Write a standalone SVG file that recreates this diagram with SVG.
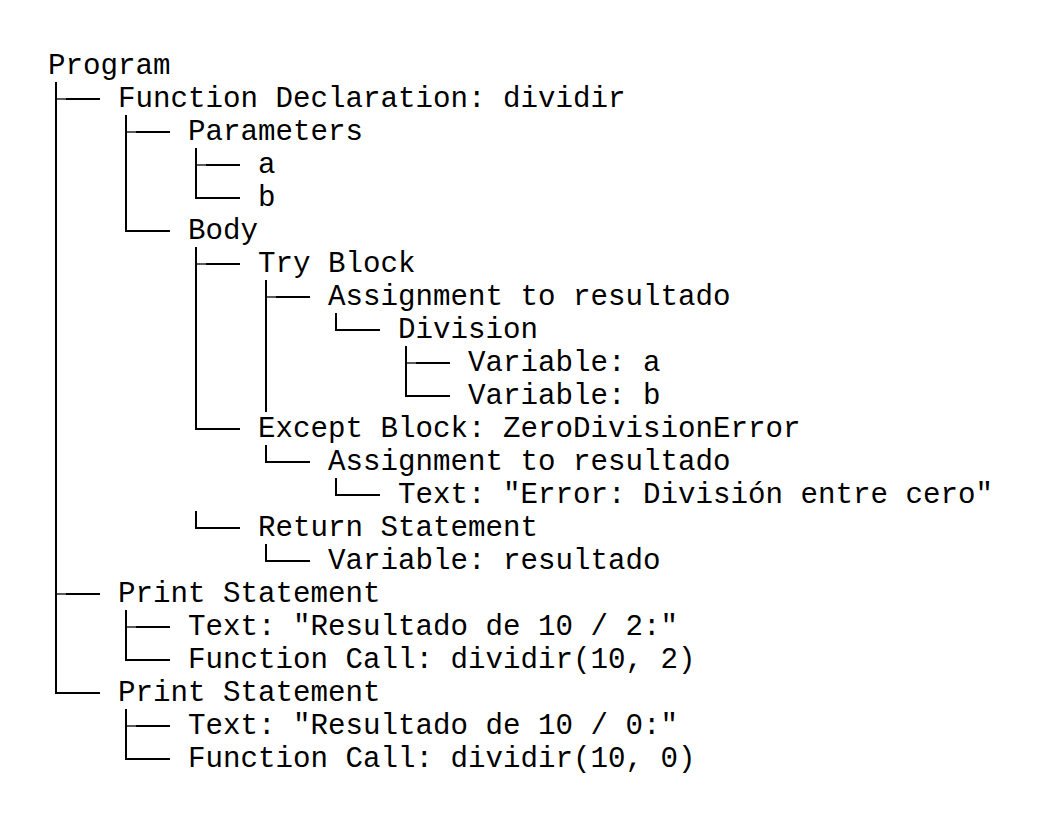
<svg xmlns="http://www.w3.org/2000/svg" width="1055" height="832" viewBox="0 0 1055 832">
<style>
text{font-family:"Liberation Mono","Courier New",monospace;font-size:29.17px;fill:#000;white-space:pre}
.c path{fill:none;stroke:#000;stroke-width:2;stroke-linejoin:miter;stroke-linecap:butt}
.c path.stub{stroke-width:1.3}
</style>
<rect width="1055" height="832" fill="#fff"/>
<g id="connectors" class="c">
<path d="M56 82V693H100"/>
<path class="stub" d="M56 99H66"/><path d="M66 99H100"/>
<path class="stub" d="M56 594H66"/><path d="M66 594H100"/>
<path d="M126 115V231H170"/>
<path class="stub" d="M126 132H136"/><path d="M136 132H170"/>
<path d="M196 148V198H240"/>
<path class="stub" d="M196 165H206"/><path d="M206 165H240"/>
<path d="M196 247V429H240"/>
<path class="stub" d="M196 264H206"/><path d="M206 264H240"/>
<path d="M266 280V412"/>
<path class="stub" d="M266 297H276"/><path d="M276 297H310"/>
<path d="M336 313V330H380"/>
<path d="M406 346V396H450"/>
<path class="stub" d="M406 363H416"/><path d="M416 363H450"/>
<path d="M266 445V462H310"/>
<path d="M336 478V495H380"/>
<path d="M196 511V528H240"/>
<path d="M266 544V561H310"/>
<path d="M126 610V660H170"/>
<path class="stub" d="M126 627H136"/><path d="M136 627H170"/>
<path d="M126 709V759H170"/>
<path class="stub" d="M126 726H136"/><path d="M136 726H170"/>
</g>
<g id="n-program"><text x="48" y="74">Program</text></g>
<g id="n-funcdecl"><text x="118" y="107">Function Declaration: dividir</text></g>
<g id="n-params"><text x="188" y="140">Parameters</text></g>
<g id="n-param-a"><text x="258" y="173">a</text></g>
<g id="n-param-b"><text x="258" y="206">b</text></g>
<g id="n-body"><text x="188" y="239">Body</text></g>
<g id="n-try"><text x="258" y="272">Try Block</text></g>
<g id="n-assign1"><text x="328" y="305">Assignment to resultado</text></g>
<g id="n-division"><text x="398" y="338">Division</text></g>
<g id="n-var-a"><text x="468" y="371">Variable: a</text></g>
<g id="n-var-b"><text x="468" y="404">Variable: b</text></g>
<g id="n-except"><text x="258" y="437">Except Block: ZeroDivisionError</text></g>
<g id="n-assign2"><text x="328" y="470">Assignment to resultado</text></g>
<g id="n-errtext"><text x="398" y="503">Text: "Error: División entre cero"</text></g>
<g id="n-return"><text x="258" y="536">Return Statement</text></g>
<g id="n-var-res"><text x="328" y="569">Variable: resultado</text></g>
<g id="n-print1"><text x="118" y="602">Print Statement</text></g>
<g id="n-text1"><text x="188" y="635">Text: "Resultado de 10 / 2:"</text></g>
<g id="n-call1"><text x="188" y="668">Function Call: dividir(10, 2)</text></g>
<g id="n-print2"><text x="118" y="701">Print Statement</text></g>
<g id="n-text2"><text x="188" y="734">Text: "Resultado de 10 / 0:"</text></g>
<g id="n-call2"><text x="188" y="767">Function Call: dividir(10, 0)</text></g>
</svg>
